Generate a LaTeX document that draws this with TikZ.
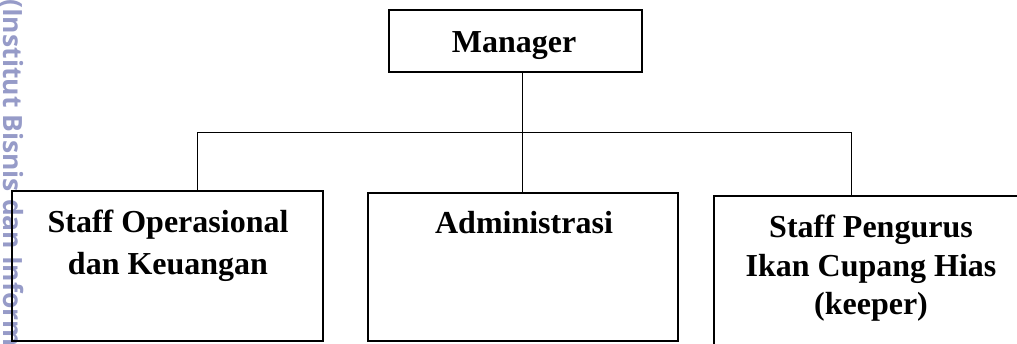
\documentclass[tikz,border=0pt]{standalone}
\usepackage{fontspec}
\setmainfont{Liberation Serif}
\newfontfamily\wmfont{Open Sans}
\definecolor{wmcol}{RGB}{150,155,200}
\begin{document}
\begin{tikzpicture}[x=1pt,y=-1pt,
  box/.style={draw=black, line width=1.4pt, inner sep=0pt, outer sep=0pt},
  conn/.style={draw=black, line width=1pt},
  lbl/.style={font=\fontsize{32}{38}\selectfont\bfseries, align=center, inner sep=0pt},
  wmtext/.style={font=\wmfont\bfseries\fontsize{26.5}{30}\selectfont, text=wmcol, inner sep=0pt}]
\useasboundingbox (0,0) rectangle (1017,343);
% watermark
\node[wmtext, rotate=-90, anchor=base west] (wm) at (3.5,-1) {(Institut Bisnis dan Inform};
% boxes
\node[box, minimum width=253pt, minimum height=62pt] (mgr) at (515.5,41) {};
\node[box, minimum width=311pt, minimum height=150pt] (left) at (167.5,266) {};
\node[box, minimum width=310pt, minimum height=148pt] (mid) at (523,267) {};
\node[box, minimum width=321pt, minimum height=160pt] (right) at (874.5,276) {};
% labels
\node[lbl, anchor=base] (mgrt) at (514,52) {Manager};
\node[lbl, anchor=north, font=\fontsize{32}{41.5}\selectfont\bfseries] (leftt) at (168,210) {Staff Operasional\\dan Keuangan};
\node[lbl, anchor=base] (midt) at (524,233) {Administrasi};
\node[lbl, anchor=north, font=\fontsize{32}{38.3}\selectfont\bfseries] (rightt) at (871,215) {Staff Pengurus\\Ikan Cupang Hias\\(keeper)};
% connectors
\coordinate (j) at (522,132);
\coordinate (jl) at (197,132);
\coordinate (jr) at (851,132);
\draw[conn] (j |- mgr.south) -- (j);
\draw[conn] (jl) -- (jr);
\draw[conn] (jl) -- (jl |- left.north);
\draw[conn] (j) -- (j |- mid.north);
\draw[conn] (jr) -- (jr |- right.north);
\end{tikzpicture}
\end{document}
